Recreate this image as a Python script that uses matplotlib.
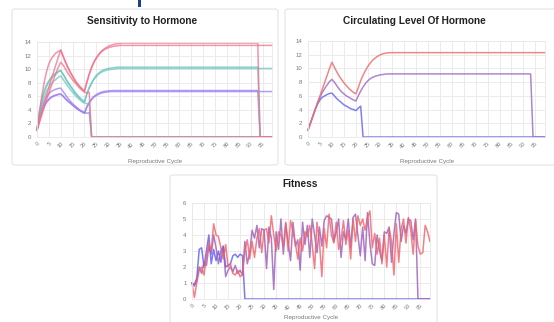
import matplotlib
matplotlib.use("Agg")
import matplotlib.pyplot as plt
from matplotlib.patches import FancyBboxPatch, Rectangle

plt.rcParams['font.family'] = ['Liberation Sans', 'DejaVu Sans']

cycles = list(range(100))
tick_labels = [str(v) for v in range(0, 100, 5)]

# ---------------- Sensitivity to Hormone ----------------
sens_red_A = [1.0, 2.3, 3.6, 4.9, 6.1, 7.3, 8.5, 9.6, 10.7, 11.8, 12.8,
              11.9, 11.0, 10.2, 9.5, 8.9, 8.3, 7.8, 7.4, 7.0, 6.7,
              8.0, 9.2, 10.2, 11.0, 11.6, 12.1, 12.5, 12.8, 13.0, 13.15,
              13.25, 13.35, 13.4, 13.45, 13.5,
              13.5, 13.5, 13.5, 13.5, 13.5, 13.5, 13.5, 13.5, 13.5, 13.5,
              13.5, 13.5, 13.5, 13.5, 13.5, 13.5, 13.5, 13.5, 13.5, 13.5,
              13.5, 13.5, 13.5, 13.5, 13.5, 13.5, 13.5, 13.5, 13.5, 13.5,
              13.5, 13.5, 13.5, 13.5, 13.5, 13.5, 13.5, 13.5, 13.5, 13.5,
              13.5, 13.5, 13.5, 13.5, 13.5, 13.5, 13.5, 13.5, 13.5, 13.5,
              13.5, 13.5, 13.5, 13.5, 13.5, 13.5, 13.5, 13.5, 13.5, 13.5,
              13.5, 13.5, 13.5, 13.5]
sens_red_B = [1.0, 3.6, 6.0, 8.0, 9.6, 10.8, 11.5, 12.0, 12.4, 12.6, 12.8,
              11.9, 11.1, 10.3, 9.6, 9.0, 8.4, 7.9, 7.5, 7.1, 6.8,
              8.1, 9.3, 10.3, 11.1, 11.7, 12.2, 12.6, 12.9, 13.15, 13.35,
              13.5, 13.6, 13.7, 13.75, 13.8,
              13.85, 13.85, 13.85, 13.85, 13.85, 13.85, 13.85, 13.85, 13.85, 13.85,
              13.85, 13.85, 13.85, 13.85, 13.85, 13.85, 13.85, 13.85, 13.85, 13.85,
              13.85, 13.85, 13.85, 13.85, 13.85, 13.85, 13.85, 13.85, 13.85, 13.85,
              13.85, 13.85, 13.85, 13.85, 13.85, 13.85, 13.85, 13.85, 13.85, 13.85,
              13.85, 13.85, 13.85, 13.85, 13.85, 13.85, 13.85, 13.85, 13.85, 13.85,
              13.85, 13.85, 13.85, 13.85, 13.85, 13.85, 13.85, 13.85,
              0, 0, 0, 0, 0, 0]
sens_red_C = [1.0, 2.1, 3.2, 4.3, 5.4, 6.5, 7.5, 8.5, 9.4, 10.3, 11.0,
              10.6, 10.0, 9.4, 8.9, 8.4, 8.0, 7.6, 7.2, 6.9, 6.6,
              6.5, 6.6,
              0, 0, 0, 0, 0, 0, 0, 0, 0, 0, 0, 0, 0, 0, 0, 0, 0, 0, 0, 0,
              0, 0, 0, 0, 0, 0, 0, 0, 0, 0, 0, 0, 0, 0, 0, 0, 0, 0, 0, 0,
              0, 0, 0, 0, 0, 0, 0, 0, 0, 0, 0, 0, 0, 0, 0, 0, 0, 0, 0, 0,
              0, 0, 0, 0, 0, 0, 0, 0, 0, 0, 0, 0, 0, 0, 0, 0, 0]

sens_teal_A = [1.0, 3.4, 5.2, 6.5, 7.4, 8.1, 8.6, 9.0, 9.3, 9.6, 9.8,
               9.2, 8.6, 8.0, 7.5, 7.0, 6.5, 6.1, 5.7, 5.4, 5.1,
               6.3, 7.2, 7.9, 8.5, 8.9, 9.3, 9.5, 9.7, 9.8, 9.9,
               9.95, 10.0, 10.05, 10.1, 10.1,
               10.1, 10.1, 10.1, 10.1, 10.1, 10.1, 10.1, 10.1, 10.1, 10.1,
               10.1, 10.1, 10.1, 10.1, 10.1, 10.1, 10.1, 10.1, 10.1, 10.1,
               10.1, 10.1, 10.1, 10.1, 10.1, 10.1, 10.1, 10.1, 10.1, 10.1,
               10.1, 10.1, 10.1, 10.1, 10.1, 10.1, 10.1, 10.1, 10.1, 10.1,
               10.1, 10.1, 10.1, 10.1, 10.1, 10.1, 10.1, 10.1, 10.1, 10.1,
               10.1, 10.1, 10.1, 10.1, 10.1, 10.1, 10.1, 10.1, 10.1, 10.1,
               10.1, 10.1, 10.1, 10.1]
sens_teal_B = [1.0, 3.6, 5.5, 6.8, 7.7, 8.3, 8.8, 9.2, 9.45, 9.65, 9.8,
               9.25, 8.7, 8.1, 7.6, 7.1, 6.6, 6.2, 5.8, 5.5, 5.2,
               6.4, 7.3, 8.0, 8.6, 9.1, 9.4, 9.7, 9.9, 10.0, 10.1,
               10.15, 10.2, 10.25, 10.3, 10.3,
               10.3, 10.3, 10.3, 10.3, 10.3, 10.3, 10.3, 10.3, 10.3, 10.3,
               10.3, 10.3, 10.3, 10.3, 10.3, 10.3, 10.3, 10.3, 10.3, 10.3,
               10.3, 10.3, 10.3, 10.3, 10.3, 10.3, 10.3, 10.3, 10.3, 10.3,
               10.3, 10.3, 10.3, 10.3, 10.3, 10.3, 10.3, 10.3, 10.3, 10.3,
               10.3, 10.3, 10.3, 10.3, 10.3, 10.3, 10.3, 10.3, 10.3, 10.3,
               10.3, 10.3, 10.3, 10.3, 10.3, 10.3, 10.3, 10.3,
               0, 0, 0, 0, 0, 0]
sens_teal_C = [1.0, 3.0, 4.6, 5.8, 6.7, 7.3, 7.8, 8.2, 8.5, 8.8, 9.0,
               8.5, 8.0, 7.5, 7.0, 6.6, 6.2, 5.8, 5.5, 5.2, 5.0,
               4.9, 5.0,
               0, 0, 0, 0, 0, 0, 0, 0, 0, 0, 0, 0, 0, 0, 0, 0, 0, 0, 0, 0,
               0, 0, 0, 0, 0, 0, 0, 0, 0, 0, 0, 0, 0, 0, 0, 0, 0, 0, 0, 0,
               0, 0, 0, 0, 0, 0, 0, 0, 0, 0, 0, 0, 0, 0, 0, 0, 0, 0, 0, 0,
               0, 0, 0, 0, 0, 0, 0, 0, 0, 0, 0, 0, 0, 0, 0, 0, 0]

sens_purple_A = [1.0, 2.6, 3.7, 4.5, 5.1, 5.5, 5.8, 6.0, 6.15, 6.25, 6.3,
                 6.0, 5.6, 5.3, 5.0, 4.7, 4.4, 4.1, 3.9, 3.7, 3.5,
                 4.4, 5.0, 5.5, 5.9, 6.1, 6.3, 6.45, 6.55, 6.6, 6.65,
                 6.7, 6.7, 6.7, 6.7, 6.7,
                 6.7, 6.7, 6.7, 6.7, 6.7, 6.7, 6.7, 6.7, 6.7, 6.7,
                 6.7, 6.7, 6.7, 6.7, 6.7, 6.7, 6.7, 6.7, 6.7, 6.7,
                 6.7, 6.7, 6.7, 6.7, 6.7, 6.7, 6.7, 6.7, 6.7, 6.7,
                 6.7, 6.7, 6.7, 6.7, 6.7, 6.7, 6.7, 6.7, 6.7, 6.7,
                 6.7, 6.7, 6.7, 6.7, 6.7, 6.7, 6.7, 6.7, 6.7, 6.7,
                 6.7, 6.7, 6.7, 6.7, 6.7, 6.7, 6.7, 6.7, 6.7, 6.7,
                 6.7, 6.7, 6.7, 6.7]
sens_purple_B = [1.0, 2.7, 3.8, 4.6, 5.2, 5.6, 5.9, 6.1, 6.2, 6.3, 6.35,
                 6.05, 5.65, 5.3, 5.0, 4.7, 4.4, 4.15, 3.9, 3.7, 3.5,
                 4.5, 5.1, 5.6, 6.0, 6.25, 6.45, 6.6, 6.7, 6.75, 6.8,
                 6.82, 6.85, 6.85, 6.85, 6.85,
                 6.85, 6.85, 6.85, 6.85, 6.85, 6.85, 6.85, 6.85, 6.85, 6.85,
                 6.85, 6.85, 6.85, 6.85, 6.85, 6.85, 6.85, 6.85, 6.85, 6.85,
                 6.85, 6.85, 6.85, 6.85, 6.85, 6.85, 6.85, 6.85, 6.85, 6.85,
                 6.85, 6.85, 6.85, 6.85, 6.85, 6.85, 6.85, 6.85, 6.85, 6.85,
                 6.85, 6.85, 6.85, 6.85, 6.85, 6.85, 6.85, 6.85, 6.85, 6.85,
                 6.85, 6.85, 6.85, 6.85, 6.85, 6.85, 6.85, 6.85,
                 0, 0, 0, 0, 0, 0]
sens_purple_C = [1.0, 3.0, 4.3, 5.2, 5.9, 6.4, 6.7, 6.9, 7.05, 7.15, 7.2,
                 6.7, 6.2, 5.7, 5.3, 4.9, 4.6, 4.3, 4.0, 3.8, 3.6,
                 3.5, 3.6,
                 0, 0, 0, 0, 0, 0, 0, 0, 0, 0, 0, 0, 0, 0, 0, 0, 0, 0, 0, 0,
                 0, 0, 0, 0, 0, 0, 0, 0, 0, 0, 0, 0, 0, 0, 0, 0, 0, 0, 0, 0,
                 0, 0, 0, 0, 0, 0, 0, 0, 0, 0, 0, 0, 0, 0, 0, 0, 0, 0, 0, 0,
                 0, 0, 0, 0, 0, 0, 0, 0, 0, 0, 0, 0, 0, 0, 0, 0, 0]

# ---------------- Circulating Level Of Hormone ----------------
circ_red = [1.0, 2.0, 3.0, 4.0, 5.0, 6.0, 7.0, 8.0, 9.0, 10.0, 10.9,
            10.2, 9.5, 8.9, 8.4, 7.9, 7.5, 7.1, 6.8, 6.5, 6.3,
            7.2, 8.2, 9.0, 9.7, 10.3, 10.8, 11.2, 11.5, 11.75, 11.95,
            12.1, 12.2, 12.25, 12.3,
            12.3, 12.3, 12.3, 12.3, 12.3, 12.3, 12.3, 12.3, 12.3, 12.3,
            12.3, 12.3, 12.3, 12.3, 12.3, 12.3, 12.3, 12.3, 12.3, 12.3,
            12.3, 12.3, 12.3, 12.3, 12.3, 12.3, 12.3, 12.3, 12.3, 12.3,
            12.3, 12.3, 12.3, 12.3, 12.3, 12.3, 12.3, 12.3, 12.3, 12.3,
            12.3, 12.3, 12.3, 12.3, 12.3, 12.3, 12.3, 12.3, 12.3, 12.3,
            12.3, 12.3, 12.3, 12.3, 12.3, 12.3, 12.3, 12.3, 12.3, 12.3,
            12.3, 12.3, 12.3, 12.3, 12.3]
circ_purple = [1.0, 2.0, 3.0, 4.0, 5.0, 5.8, 6.5, 7.1, 7.6, 8.1, 8.4,
               8.0, 7.5, 7.0, 6.6, 6.3, 6.0, 5.8, 5.6, 5.4, 5.25,
               6.0, 6.7, 7.3, 7.8, 8.2, 8.5, 8.7, 8.85, 8.95, 9.05,
               9.1, 9.15, 9.2,
               9.2, 9.2, 9.2, 9.2, 9.2, 9.2, 9.2, 9.2, 9.2, 9.2,
               9.2, 9.2, 9.2, 9.2, 9.2, 9.2, 9.2, 9.2, 9.2, 9.2,
               9.2, 9.2, 9.2, 9.2, 9.2, 9.2, 9.2, 9.2, 9.2, 9.2,
               9.2, 9.2, 9.2, 9.2, 9.2, 9.2, 9.2, 9.2, 9.2, 9.2,
               9.2, 9.2, 9.2, 9.2, 9.2, 9.2, 9.2, 9.2, 9.2, 9.2,
               9.2, 9.2, 9.2, 9.2, 9.2, 9.2, 9.2, 9.2, 9.2, 9.2,
               0, 0, 0, 0, 0, 0]
circ_blue = [1.0, 2.0, 3.0, 4.0, 4.8, 5.4, 5.8, 6.0, 6.2, 6.35, 6.4,
             6.0, 5.6, 5.3, 5.0, 4.7, 4.5, 4.3, 4.1, 4.0, 3.85,
             4.2, 4.5,
             0, 0, 0, 0, 0, 0, 0, 0, 0, 0, 0, 0, 0, 0, 0, 0, 0, 0, 0, 0,
             0, 0, 0, 0, 0, 0, 0, 0, 0, 0, 0, 0, 0, 0, 0, 0, 0, 0, 0, 0,
             0, 0, 0, 0, 0, 0, 0, 0, 0, 0, 0, 0, 0, 0, 0, 0, 0, 0, 0, 0,
             0, 0, 0, 0, 0, 0, 0, 0, 0, 0, 0, 0, 0, 0, 0, 0, 0]

# ---------------- Fitness ----------------
fit_red = [1.0, 0.1, 1.0, 1.8, 2.0, 1.5, 2.7, 3.5, 3.0, 4.7,
           4.0, 3.9, 3.2, 2.5, 3.4, 2.0, 2.2, 1.6, 1.5, 1.8,
           1.4, 1.5, 3.0, 3.7, 2.5, 3.6, 2.6, 3.8, 4.4, 2.9,
           4.3, 4.4, 3.5, 5.2, 4.0, 3.0, 4.2, 4.0, 3.3, 4.8,
           3.0, 4.9, 4.2, 3.5, 2.5, 3.8, 3.0, 4.2, 3.9, 4.6,
           3.4, 1.9, 4.8, 3.6, 1.4, 4.4, 3.2, 5.3, 4.0, 3.5,
           4.8, 3.1, 3.7, 4.9, 3.4, 4.3, 2.5, 5.0, 3.6, 5.2,
           4.6, 5.0, 4.3, 5.1, 5.5, 3.2, 4.1, 2.8, 3.8, 2.2,
           4.0, 2.0, 4.4, 3.6, 1.5, 4.7, 2.3, 4.4, 5.0, 3.5,
           5.1, 4.3, 2.8, 4.9, 3.3, 2.8, 2.9, 4.6, 4.2, 3.6]
fit_purple = [1.0, 0.8, 1.2, 2.0, 1.6, 2.3, 2.1, 3.3, 2.8, 4.0,
              3.2, 2.2, 3.0, 3.3, 1.4, 1.8, 2.0, 1.7, 2.1, 1.6,
              1.8, 1.5, 3.6, 2.2, 2.9, 4.3, 3.8, 4.6, 3.2, 4.4,
              4.3, 1.9, 4.5, 3.8, 0.6, 4.2, 3.1, 5.0, 2.8, 4.7,
              3.5, 2.4, 4.8, 3.3, 3.7, 1.8, 4.8, 3.4, 4.6, 2.6,
              5.0, 4.0, 2.9, 4.5, 3.3, 4.9, 5.2, 5.1, 5.0, 3.6,
              4.2, 5.0, 2.6, 4.2, 3.7, 5.0, 3.2, 5.1, 5.3, 4.0,
              2.7, 4.5, 2.4, 5.4, 3.5, 2.2, 2.1, 4.0, 3.0, 2.4,
              4.2, 4.1, 4.5, 2.3, 4.1, 5.4, 5.3, 3.6, 4.6, 4.1,
              5.0, 4.9, 3.7, 5.0, 0, 0, 0, 0, 0, 0]
fit_blue = [1.0, 0.9, 1.3, 3.1, 3.2, 2.0, 3.0, 4.0, 2.2, 3.1,
            2.4, 3.0, 2.3, 3.3, 2.0, 2.1, 2.2, 2.7, 2.8, 2.6,
            2.8, 2.7, 0, 0, 0, 0, 0, 0, 0, 0,
            0, 0, 0, 0, 0, 0, 0, 0, 0, 0,
            0, 0, 0, 0, 0, 0, 0, 0, 0, 0,
            0, 0, 0, 0, 0, 0, 0, 0, 0, 0,
            0, 0, 0, 0, 0, 0, 0, 0, 0, 0,
            0, 0, 0, 0, 0, 0, 0, 0, 0, 0,
            0, 0, 0, 0, 0, 0, 0, 0, 0, 0,
            0, 0, 0, 0, 0, 0, 0, 0, 0, 0]

# ---------------- styling ----------------
W, H = 554, 322
fig = plt.figure(figsize=(W / 100, H / 100), dpi=100)
fig.patch.set_facecolor('white')

GRID = '#e8e8e8'
TICK = '#777777'


def card(x0, y0, x1, y1):
    p = FancyBboxPatch((x0 / W, 1 - y1 / H), (x1 - x0) / W, (y1 - y0) / H,
                       boxstyle='round,pad=0,rounding_size=0.006',
                       transform=fig.transFigure, facecolor='white',
                       edgecolor='#e4e4e4', linewidth=0.8, zorder=-10)
    fig.patches.append(p)


def make_axes(left, right, top, bottom, ymax, ystep):
    ax = fig.add_axes([left / W, 1 - bottom / H, (right - left) / W, (bottom - top) / H])
    ax.set_zorder(5)
    ax.set_facecolor('none')
    ax.set_xlim(0, 99)
    ax.set_ylim(0, ymax)
    ax.set_xticks(list(range(0, 100, 5)))
    ax.set_xticklabels(tick_labels, rotation=45, ha='right', rotation_mode='anchor',
                       fontsize=4.0, color=TICK)
    ax.set_yticks(list(range(0, ymax + 1, ystep)))
    ax.tick_params(axis='y', labelsize=4.3, labelcolor=TICK, length=0, pad=4)
    ax.tick_params(axis='x', length=0, pad=3)
    ax.grid(True, color=GRID, linewidth=0.6)
    ax.set_axisbelow(True)
    for s in ax.spines.values():
        s.set_color(GRID)
        s.set_linewidth(0.6)
    return ax


# cards
card(12, 9, 278, 165)
card(285, 9, 570, 165)
card(170, 175, 437, 340)

# descender of a heading cut off at the top edge
fig.patches.append(Rectangle((138 / W, 1 - 7 / H), 3 / W, 8 / H, transform=fig.transFigure,
                             facecolor='#1d3f8e', edgecolor='none', zorder=1))

LW = 1.1

# Chart 1
ax1 = make_axes(37, 272, 42, 137, 14, 2)
c_red, c_teal, c_pur = '#f0708c', '#6cc5c0', '#9c7cf0'
for ys, c in [(sens_purple_C, c_pur), (sens_purple_B, c_pur), (sens_purple_A, c_pur),
              (sens_teal_C, c_teal), (sens_teal_B, c_teal), (sens_teal_A, c_teal),
              (sens_red_C, c_red), (sens_red_B, c_red), (sens_red_A, c_red)]:
    ax1.plot(cycles, ys, color=c, lw=LW, alpha=0.75, clip_on=False)
fig.text(142 / W, 1 - 21 / H, 'Sensitivity to Hormone', fontsize=7.3, fontweight='bold',
         color='#222222', ha='center', va='center')
fig.text(155 / W, 1 - 161 / H, 'Reproductive Cycle', fontsize=4.5, color=TICK,
         ha='center', va='center')

# Chart 2
ax2 = make_axes(308, 545, 41, 137, 14, 2)
for ys, c in [(circ_blue, '#6a6af0'), (circ_purple, '#a070c8'), (circ_red, '#f07070')]:
    ax2.plot(cycles, ys, color=c, lw=LW, alpha=0.85, clip_on=False)
fig.text(414 / W, 1 - 21 / H, 'Circulating Level Of Hormone', fontsize=7.3, fontweight='bold',
         color='#222222', ha='center', va='center')
fig.text(427 / W, 1 - 161 / H, 'Reproductive Cycle', fontsize=4.5, color=TICK,
         ha='center', va='center')

# Chart 3
ax3 = make_axes(192, 430, 203, 299, 6, 1)
for ys, c in [(fit_blue, '#5a5af5'), (fit_purple, '#9a5ab8'), (fit_red, '#f0606a')]:
    ax3.plot(cycles, ys, color=c, lw=LW, alpha=0.8, clip_on=False)
fig.text(300 / W, 1 - 184 / H, 'Fitness', fontsize=7.3, fontweight='bold',
         color='#222222', ha='center', va='center')
fig.text(311 / W, 1 - 317 / H, 'Reproductive Cycle', fontsize=4.5, color=TICK,
         ha='center', va='center')

fig.savefig('out.png', dpi=100, facecolor='white')
